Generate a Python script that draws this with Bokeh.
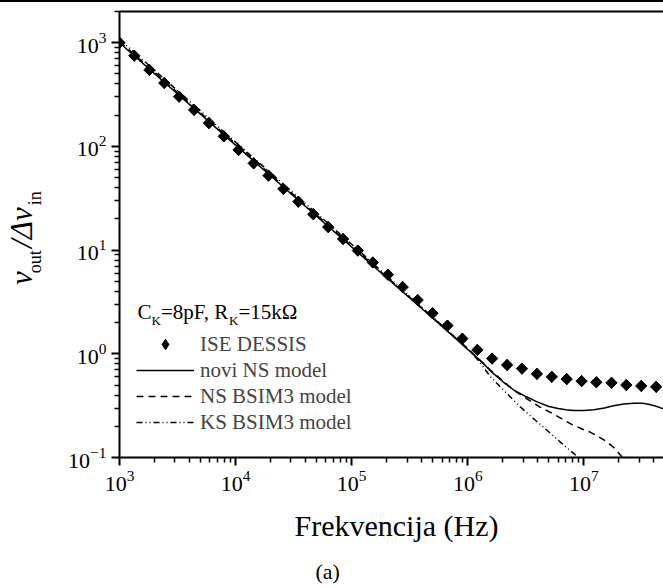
import math
from bokeh.plotting import figure
from bokeh.models import (FixedTicker, LogAxis, Legend, LegendItem, Label, Title, Div,
                          CustomJSTickFormatter, LogTickFormatter)
from bokeh.layouts import column
from bokeh.embed import file_html
from bokeh.resources import INLINE

SERIF = "Liberation Serif"
NB = "\u00a0"

# ---------------- data ----------------
dessis_f = [1.00e3, 1.34e3, 1.81e3, 2.43e3, 3.26e3, 4.39e3, 5.89e3, 7.92e3, 1.06e4,
            1.43e4, 1.92e4, 2.58e4, 3.47e4, 4.67e4, 6.27e4, 8.43e4, 1.13e5, 1.52e5,
            2.05e5, 2.75e5, 3.70e5, 4.97e5, 6.68e5, 8.98e5, 1.21e6, 1.62e6, 2.18e6,
            2.93e6, 3.94e6, 5.29e6, 7.11e6, 9.56e6, 1.28e7, 1.73e7, 2.32e7, 3.12e7, 4.19e7]
dessis_v = [1000, 750, 546, 409, 302, 225, 168, 125, 92.5,
            68.7, 52.3, 38.9, 29.3, 22.2, 16.7, 12.8, 9.9, 7.6,
            5.8, 4.4, 3.3, 2.46, 1.87, 1.40, 1.09, 0.90, 0.78,
            0.72, 0.64, 0.60, 0.57, 0.545, 0.532, 0.525, 0.50, 0.49, 0.48]

novi_f = [1e3, 1e4, 1e5, 5e5, 1e6, 1.3e6, 1.6e6, 2e6, 2.5e6, 3.2e6, 4e6, 5e6, 6e6,
          7e6, 8.2e6, 1e7, 1.22e7, 1.5e7, 1.8e7, 2.2e7, 2.7e7, 3.2e7, 3.6e7, 4.2e7, 4.87e7]
novi_v = [1000, 103, 10.7, 2.2, 1.1, 0.85, 0.67, 0.54, 0.445, 0.385, 0.342, 0.31, 0.297,
          0.289, 0.284, 0.284, 0.288, 0.30, 0.316, 0.328, 0.334, 0.333, 0.326, 0.312, 0.294]

nsb_f = [1e3, 1e4, 1e5, 1e6, 1.6e6, 2.5e6, 3.2e6, 4.2e6, 5.5e6, 7.7e6, 1e7, 1.14e7,
         1.3e7, 1.59e7, 1.85e7, 2.07e7, 2.3e7]
nsb_v = [1030, 106, 11.0, 1.12, 0.68, 0.445, 0.37, 0.306, 0.262, 0.211, 0.185, 0.175,
         0.162, 0.141, 0.122, 0.105, 0.09]

ksb_f = [1e3, 1e4, 1e5, 1e6, 1.25e6, 1.57e6, 2.1e6, 2.85e6, 3.8e6, 4.84e6, 6.3e6, 8.2e6, 9.5e6]
ksb_v = [1080, 110, 11.4, 1.12, 0.85, 0.60, 0.43, 0.306, 0.23, 0.182, 0.14, 0.109, 0.093]

xtick_vals = [1e3, 1e4, 1e5, 1e6, 1e7]
ytick_vals = [1e-1, 1e0, 1e1, 1e2, 1e3]

legend_labels = ["ISE DESSIS", "novi NS model", "NS BSIM3 model", "KS BSIM3 model"]
x_title = "Frekvencija (Hz)"
caption = "(a)"
y_title_sub = NB + "out" + NB * 10 + "in"        # subscript band of  ν_out/Δν_in
y_title_main = "ν" + NB * 3 + "/Δν" + NB * 3       # main band of       ν_out/Δν_in

X_START, X_END = 1e3, 4.85e7
Y_START, Y_END = 0.1, 2000

# ---------------- figure ----------------
p = figure(width=663, height=586, x_axis_type="log", y_axis_type="log",
           x_range=(X_START, X_END), y_range=(Y_START, Y_END),
           output_backend="svg", toolbar_location=None,
           min_border_left=118, min_border_right=0, min_border_top=9, min_border_bottom=131)
p.outline_line_color = None
p.grid.visible = False
p.background_fill_color = "white"
p.border_fill_color = "white"

blank = CustomJSTickFormatter(code="return '';")

def minor_list(lo, hi):
    out = []
    e = math.floor(math.log10(lo))
    while 10 ** e <= hi:
        for m in range(2, 10):
            v = m * 10 ** e
            if lo <= v <= hi:
                out.append(v)
        e += 1
    return out

for ax, ticks, lo, hi in [(p.xaxis[0], xtick_vals, X_START, X_END),
                          (p.yaxis[0], ytick_vals, Y_START, Y_END)]:
    ax.ticker = FixedTicker(ticks=ticks, minor_ticks=minor_list(lo, hi))
    ax.formatter = LogTickFormatter()
    ax.axis_line_width = 2
    ax.axis_line_color = "black"
    ax.major_tick_line_width = 2
    ax.major_tick_out = 8
    ax.major_tick_in = 0
    ax.minor_tick_line_width = 1.5
    ax.minor_tick_out = 5
    ax.minor_tick_in = 0
    ax.major_label_standoff = 5
    ax.major_label_text_font = SERIF
    ax.major_label_text_font_size = "22px"
    ax.major_label_text_color = "black"

# inner y axis carries the subscript band of the y title
yax = p.yaxis[0]
yax.axis_label = y_title_sub
yax.axis_label_text_font = SERIF
yax.axis_label_text_font_size = "18px"
yax.axis_label_text_font_style = "normal"
yax.axis_label_text_color = "black"
yax.axis_label_standoff = 20

# outer (tickless) y axis carries the main band of the y title
yax2 = LogAxis(formatter=blank, ticker=FixedTicker(ticks=[]), axis_line_color=None,
               major_tick_out=0, major_tick_in=0, minor_tick_out=0, minor_tick_in=0,
               major_label_standoff=0, axis_label=y_title_main,
               axis_label_text_font=SERIF, axis_label_text_font_size="31px",
               axis_label_text_font_style="italic", axis_label_text_color="black")
try:
    yax2.axis_label_standoff = -16
except Exception:
    yax2.axis_label_standoff = 0
p.add_layout(yax2, "left")

top = LogAxis(formatter=blank, major_tick_out=0, major_tick_in=0, minor_tick_out=0,
              minor_tick_in=0, axis_line_width=2, axis_line_color="black",
              major_label_standoff=0, axis_label_standoff=0,
              ticker=FixedTicker(ticks=[]))
p.add_layout(top, "above")

# ---------------- data marks ----------------
r_novi = p.line(novi_f, novi_v, line_color="black", line_width=1.5)
r_nsb = p.line(nsb_f, nsb_v, line_color="black", line_width=1.5, line_dash="7 5")
r_ksb = p.line(ksb_f, ksb_v, line_color="black", line_width=1.5, line_dash="6 3 1 3 1 3")
# diamond key (hidden under the rotated squares; legend swatches are drawn unrotated)
r_des_key = p.scatter(dessis_f, dessis_v, marker="diamond", size=11,
                      fill_color="black", line_color="black")
r_des = p.scatter(dessis_f, dessis_v, marker="square", angle=math.pi / 4, size=8,
                  fill_color="black", line_color="black")

legend = Legend(items=[LegendItem(label=legend_labels[0], renderers=[r_des_key]),
                       LegendItem(label=legend_labels[1], renderers=[r_novi]),
                       LegendItem(label=legend_labels[2], renderers=[r_nsb]),
                       LegendItem(label=legend_labels[3], renderers=[r_ksb])],
                location=(17, 22), padding=0, margin=0, spacing=0,
                glyph_width=58, glyph_height=26, label_height=26, label_standoff=6,
                label_text_font=SERIF, label_text_font_size="21px",
                border_line_color=None, background_fill_alpha=0)
p.add_layout(legend)

# legend heading C_K=8pF, R_K=15kΩ
head = [("C", 18, 145.5, "21px"), ("K", 32, 137.5, "13px"), ("=8pF, R", 41.4, 145.5, "21px"),
        ("K", 109.5, 137.5, "13px"), ("=15kΩ", 119, 145.5, "21px")]
for t, x, y, fs in head:
    p.add_layout(Label(x=x, y=y, x_units="screen", y_units="screen", text=t,
                       text_font=SERIF, text_font_size=fs, text_baseline="alphabetic",
                       text_align="left", text_color="black"))

# ---------------- x title and caption ----------------
p.add_layout(Title(text=x_title, align="left", offset=175, standoff=27,
                   text_font=SERIF, text_font_size="30px", text_font_style="normal",
                   text_color="black"), "below")
p.add_layout(Title(text=caption, align="left", offset=196, standoff=2,
                   text_font=SERIF, text_font_size="22px", text_font_style="normal",
                   text_color="black"), "below")

topline = Div(text="", width=663, height=2, margin=0,
              styles={"background-color": "#000000"})
layout = column(topline, p, spacing=0, margin=0)

open("out.html", "w").write(file_html(layout, INLINE))
